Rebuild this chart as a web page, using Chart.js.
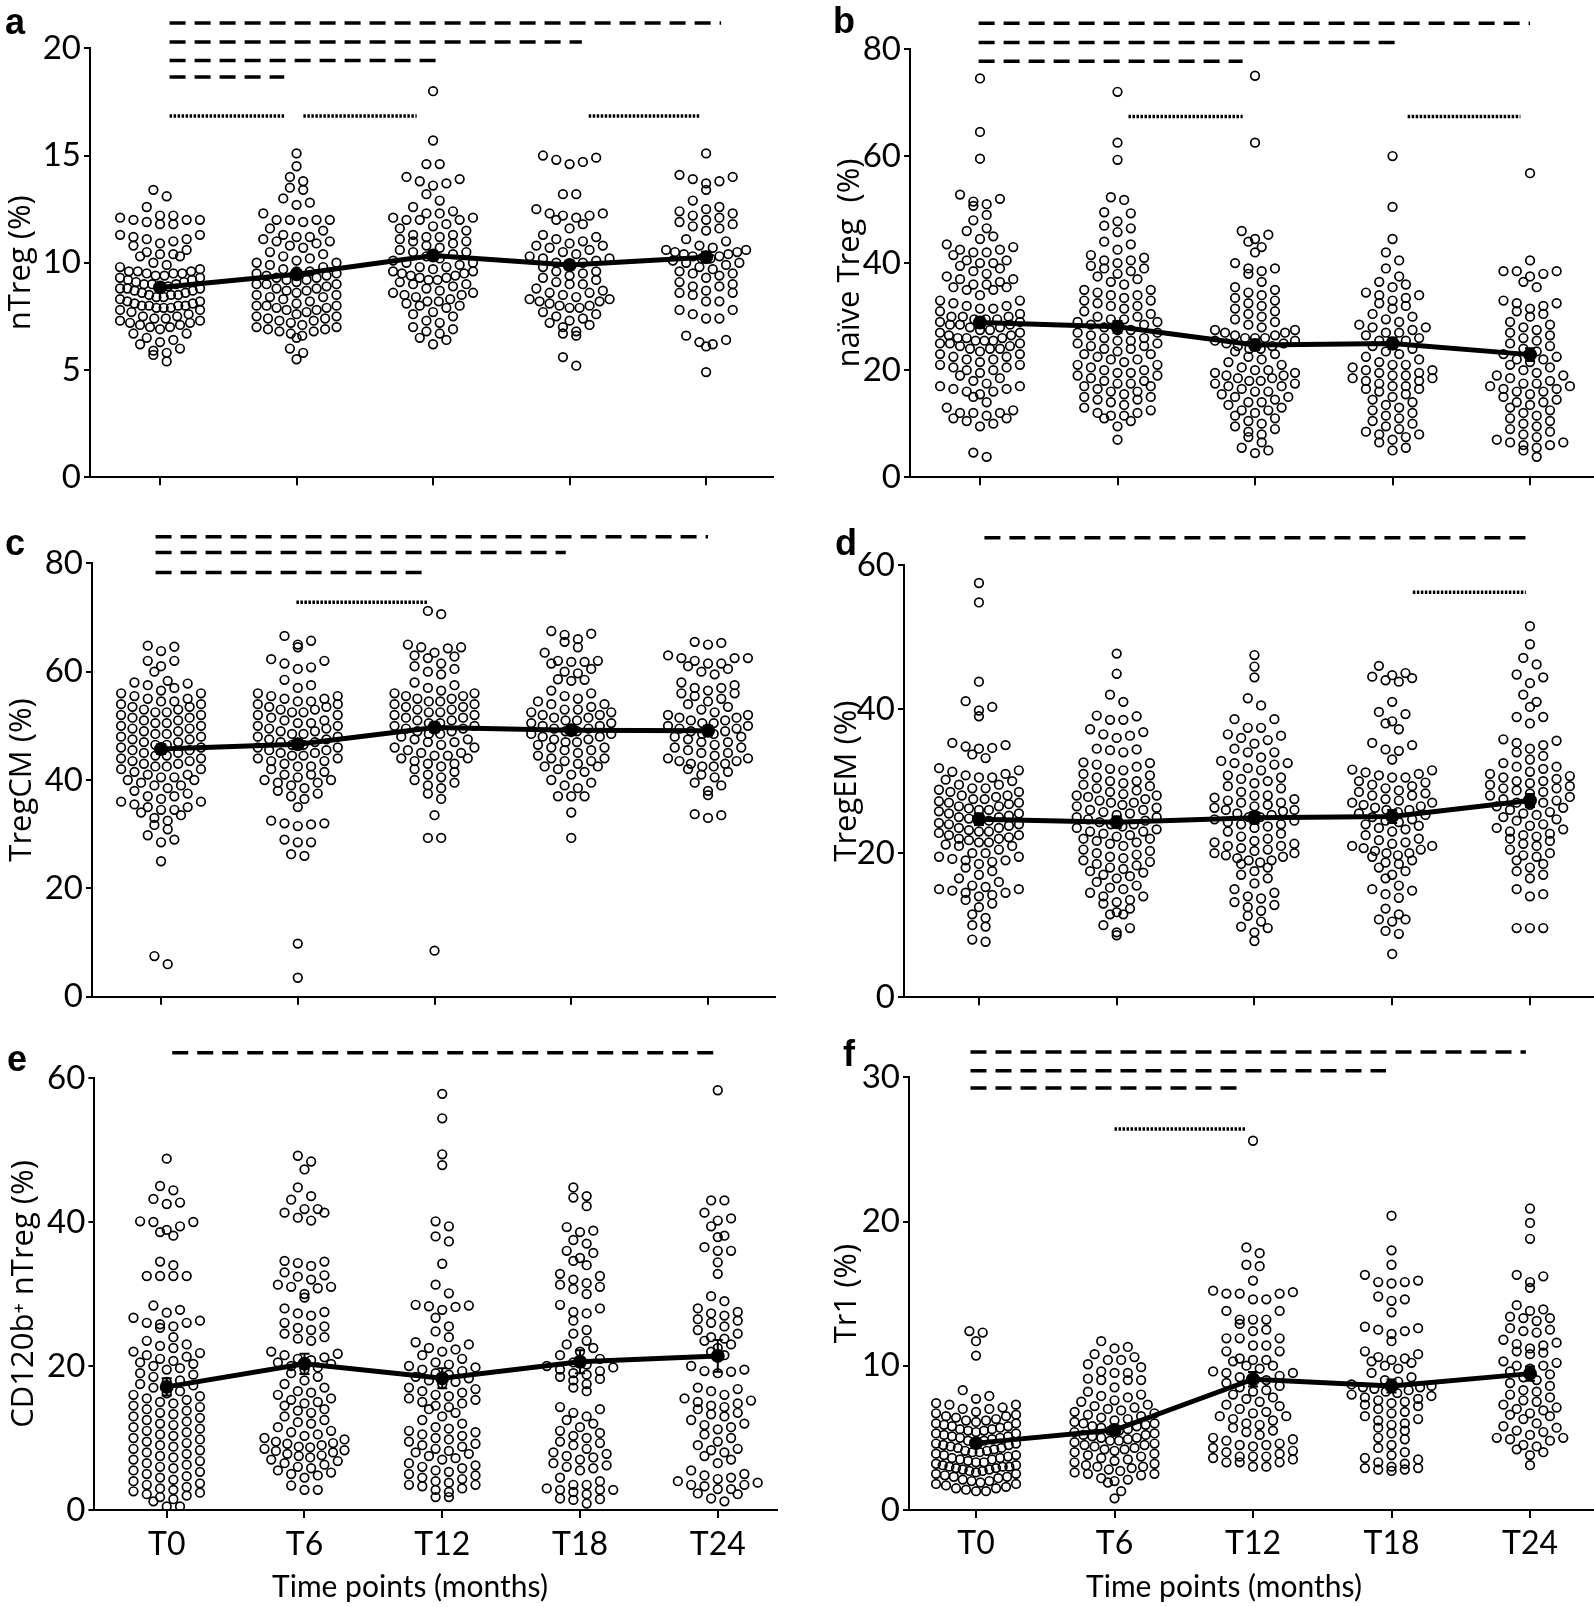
<!DOCTYPE html>
<html>
<head>
<meta charset="utf-8">
<script src="https://cdn.jsdelivr.net/npm/chart.js@4.4.1/dist/chart.umd.min.js"></script>
<style>
  body { margin: 0; background: #fff; }
  #wrap { position: relative; width: 1594px; height: 1607px; }
  canvas { position: absolute; }
</style>
</head>
<body>
<div id="wrap">
  <canvas id="pa" width="797" height="500" style="left:0;top:0"></canvas>
  <canvas id="pb" width="797" height="500" style="left:797px;top:0"></canvas>
  <canvas id="pc" width="797" height="520" style="left:0;top:500px"></canvas>
  <canvas id="pd" width="797" height="520" style="left:797px;top:500px"></canvas>
  <canvas id="pe" width="797" height="587" style="left:0;top:1020px"></canvas>
  <canvas id="pf" width="797" height="587" style="left:797px;top:1020px"></canvas>
</div>
<script>
// time points on the x axis
const timeLabels = ['T0', 'T6', 'T12', 'T18', 'T24'];
const xTitle = 'Time points (months)';

// --- a: nTreg (%) ---
const nTreg = [
  [13.4,13.1,12.6,12.2,12.2,12.1,12.0,12.0,12.0,11.9,11.8,11.8,11.3,11.3,11.2,11.1,11.1,11.0,10.9,10.8,10.6,10.5,10.4,10.4,10.3,10.3,10.0,9.9,9.8,9.7,9.6,9.6,9.6,9.5,9.5,9.5,9.4,9.4,9.3,9.3,9.2,9.2,9.1,9.1,9.0,9.0,9.0,8.9,8.9,8.8,8.8,8.8,8.7,8.7,8.6,8.6,8.5,8.5,8.5,8.4,8.4,8.3,8.2,8.2,8.1,8.1,8.0,8.0,8.0,8.0,7.9,7.9,7.9,7.8,7.8,7.7,7.6,7.5,7.5,7.4,7.4,7.3,7.3,7.2,7.2,7.1,7.1,7.0,7.0,6.9,6.7,6.7,6.5,6.4,6.3,6.2,6.0,5.9,5.8,5.7,5.4],
  [15.1,14.5,14.0,13.8,13.5,13.4,13.0,12.8,12.7,12.3,12.0,12.0,12.0,12.0,11.9,11.6,11.5,11.3,11.2,11.2,11.1,11.0,11.0,10.9,10.8,10.7,10.5,10.4,10.3,10.2,10.1,10.0,10.0,9.9,9.8,9.7,9.6,9.6,9.5,9.5,9.4,9.4,9.3,9.3,9.2,9.2,9.1,9.0,9.0,9.0,8.9,8.8,8.8,8.7,8.7,8.6,8.5,8.5,8.4,8.4,8.3,8.2,8.1,8.0,8.0,8.0,7.9,7.9,7.8,7.8,7.7,7.6,7.5,7.5,7.4,7.4,7.3,7.3,7.2,7.1,7.0,7.0,6.9,6.9,6.8,6.8,6.7,6.6,6.5,6.0,5.8,5.5],
  [18.0,15.7,14.6,14.6,14.0,13.9,13.8,13.7,13.6,13.2,12.9,12.6,12.4,12.3,12.3,12.1,12.1,12.0,12.0,12.0,11.8,11.7,11.6,11.5,11.3,11.3,11.2,11.2,11.1,11.0,11.0,10.9,10.8,10.7,10.6,10.5,10.5,10.4,10.3,10.2,10.1,10.0,10.0,9.9,9.8,9.8,9.7,9.6,9.6,9.5,9.5,9.4,9.4,9.3,9.3,9.2,9.2,9.1,9.0,9.0,8.9,8.8,8.7,8.6,8.6,8.5,8.5,8.4,8.3,8.2,8.2,8.1,8.0,8.0,7.9,7.7,7.6,7.5,7.3,7.2,7.0,6.9,6.8,6.7,6.5,6.4,6.2],
  [15.0,14.9,14.8,14.7,14.6,13.2,13.2,12.5,12.3,12.3,12.2,12.2,12.1,12.0,11.8,11.6,11.3,11.2,11.1,11.0,10.9,10.8,10.8,10.7,10.6,10.5,10.4,10.3,10.2,10.2,10.1,10.0,10.0,9.9,9.8,9.6,9.6,9.5,9.4,9.3,9.2,9.1,9.0,9.0,8.8,8.7,8.6,8.6,8.5,8.4,8.3,8.3,8.2,8.2,8.1,8.0,8.0,7.9,7.9,7.7,7.6,7.5,7.4,7.3,7.2,7.1,7.0,6.8,6.7,6.6,5.6,5.2],
  [15.1,14.1,14.0,13.9,13.8,13.7,13.4,12.9,12.6,12.5,12.4,12.3,12.2,12.1,12.0,11.9,11.8,11.7,11.6,11.5,11.1,11.0,10.8,10.7,10.6,10.6,10.5,10.5,10.4,10.4,10.3,10.3,10.2,10.2,10.1,10.0,10.0,9.9,9.8,9.7,9.6,9.5,9.5,9.4,9.3,9.1,9.0,8.9,8.9,8.7,8.6,8.6,8.5,8.2,8.2,7.8,7.8,7.6,7.4,7.4,6.6,6.4,6.3,6.2,6.1,4.9]
];
const nTregMean = [8.85, 9.46, 10.34, 9.89, 10.26];
const nTregSem = [0.2, 0.2, 0.2, 0.2, 0.25];
const nTregDashed = [[0.07, 4.11, 21.18], [0.07, 3.09, 20.29], [0.07, 2.05, 19.43], [0.07, 0.91, 18.66]];
const nTregDotted = [[0.07, 0.91, 16.84], [1.05, 1.88, 16.84], [3.14, 3.96, 16.84]];

// --- b: naive Treg (%) ---
const naiveTreg = [
  [74.5,64.5,59.5,52.8,52,51.5,51,50.7,49,48,46.5,46,45,44.5,43.5,43,42.5,42.5,42,42,41.5,40.5,40.5,40,40,39.5,39,38.5,38,37.5,37,37,36.5,36,36,35.5,35.5,35,35,34,33,33,32.5,32,32,31.5,31.5,31,30.5,30,30,30,29.5,29.5,29.5,29,29,28.5,28.5,28.5,28,28,27.5,27.5,27,27,26.5,26.5,26,26,26,25.5,25.5,25.5,25,25,25,24.5,24.5,24,24,24,23.5,23,23,22.5,22.5,22,22,21.5,21,21,20.5,20.5,20,20,19.5,19,18.5,18,17.5,17,17,16.5,16.5,16,16,15.5,15,14,13,12.5,12,12,12,11.5,11,11,10.5,10,9.5,4.6,3.8],
  [72,62.5,59.3,52.3,51.8,49.5,49.3,47.8,47,46.5,45.8,44,43.5,42.5,41.5,41,40.5,40.5,40,39.5,39,39,38.5,38,37.5,37,36.5,36,35,35,34.5,34,34,33.5,33,33,32.5,32,32,31.5,31,30.5,30,30,29.5,29.5,29,29,28.5,28.5,28,27.5,27.5,27,27,26.5,26,26,25.5,25.5,25,25,24.5,24.5,24,24,23.5,23,23,22.5,22,22,21.5,21,21,20.5,20,20,19.5,19.5,19,19,18.5,18,18,17.5,17.5,17,17,16.5,16,16,15.5,15,15,14.5,14.5,14,13.5,13,12.5,12,12,11.5,11.5,11,10.5,9.5,7],
  [75,62.5,46,45.3,44.5,44,43,42,40,39,39,38.5,38,36.5,35.5,35,34.5,34,33.5,33,32.5,32,31.5,31,30.5,30,29.5,29,28.5,28,27.5,27.5,27,27,26.5,26.5,26,26,26,25.5,25.5,25,25,24.5,24.5,24,24,23.5,23,22.5,22,21.5,21,20.5,20,20,19.5,19.5,19,19,18.5,18.5,18,18,17.5,17.5,17,17,16.5,16,16,15.5,15,15,14.5,14,14,13.5,13,12.5,12.5,12,11.5,11,10.5,10,9.5,9,8.5,8,7.5,6.5,5.5,5,4.5],
  [60,50.5,44.5,42,40.5,39,37.5,36.5,36,35.5,34.5,34,34,33.5,33,32.5,32,31.5,30.5,30,29.5,29,28.5,28,28,27.5,27,27,26.5,26,25.5,25.5,25,24.5,24,23.5,23,22.5,22,21.5,21,21,20.5,20,20,19.5,19.5,19,19,18.5,18.5,18,18,17.5,17,17,16.5,16.5,16,15.5,15,14.5,14,13.5,13,12.5,12,11.5,11,10.5,10,9.5,9,8.5,8,8,7.5,7,6.5,5.5,5],
  [56.8,40.5,38.5,38.5,38.5,38,37.5,36.5,35.5,33,32.5,32.5,32,31.5,31,30.5,30,29,28.5,28,27.5,27,26.5,26,25.5,25,24.5,24,23.5,23,22.5,22,22,21.5,21,20.5,20,19.5,19,19,18.5,18,17.5,17.5,17,17,16.5,16.5,16,16,15.5,15,14.5,14,14,13.5,13,12.5,12,11.5,11,10.5,10,9.5,9,8.5,8,7.5,7,6.5,6.5,6,6,5.5,5,3.8]
];
const naiveTregMean = [28.9, 28.1, 24.7, 25.0, 22.9];
const naiveTregSem = [1.0, 1.1, 1.0, 1.1, 1.2];
const naiveTregDashed = [[-0.01, 4.0, 84.8], [-0.01, 3.07, 81.2], [-0.01, 1.91, 77.7]];
const naiveTregDotted = [[1.08, 1.91, 67.4], [3.11, 3.93, 67.4]];

// --- c: TregCM (%) ---
const tregCM = [
  [64.8,64.6,63.8,62,62,61,60,58.3,58,57.8,57.5,57,56.5,56,56,55.5,55,55,54.5,54.5,54,54,53.5,53.5,53,53,52.5,52.5,52,52,51.5,51.5,51,51,50.5,50.5,50,50,49.5,49.5,49,49,48.5,48.5,48,48,47.5,47.5,47,47,46.5,46.5,46,46,45.5,45.5,45,45,44.5,44.5,44,44,43.5,43.5,43,43,42.5,42.5,42,42,41.5,41,41,40.5,40.5,40,40,39.5,39,39,38.5,38,37.5,37,37,36.5,36,36,35.5,35,35,34.5,34.5,34,33.5,33,32.5,31.7,30.9,29.8,29,28.5,25,7.5,6],
  [66.6,65.7,65,64.5,62.3,62,61.5,60.8,60.5,58.5,57.5,57,56,55.5,55.5,55,55,54.5,54.5,54,54,53.5,53.5,53,53,52.5,52.5,52,52,51.5,51,51,50.5,50.5,50,50,49.5,49.5,49,49,48.5,48.5,48,48,47.5,47.5,47,47,46.5,46.5,46,46,45.5,45.5,45,45,44.5,44.5,44,44,43.5,43.5,43,42.5,42.5,42,41.5,41,41,40.5,40,40,39.5,39.5,39,38.5,38,37.5,37,36.5,35,32.5,32,32,31.8,31.5,29,28.5,28.5,26.3,26,9.8,3.5],
  [71.2,70.6,65,64.5,64.5,64.3,63.5,63,62.8,62.5,61.5,61,60.5,60,59.5,58,57.5,57,56.5,56,56,55.5,55.5,55,55,54.5,54.5,54,54,53.5,53.5,53,53,52.5,52.5,52,52,51.5,51.5,51,51,50.5,50.5,50,50,49.5,49.5,49,49,48.5,48.5,48,47.5,47.5,47,47,46.5,46,46,45.5,45,45,44.5,44.5,44,44,43.5,43,43,42.5,42,41.5,41,40.5,40,39.5,39,38.5,37.5,36.5,33.5,29.3,29.3,8.5],
  [67.5,67,66.8,66,65.5,64.5,63.5,62,62,61.8,61.8,61.5,60.5,60,59.7,58.6,58.5,58.3,56.5,56,55.5,55,54.5,54,54,53.5,53,53,52.5,52.5,52,52,51.5,51.5,51,51,50.5,50.5,50,50,49.5,49.5,49,49,48.5,48.5,48,48,47.5,47.5,47,47,46.5,46,46,45.5,45.5,45,44.5,44,44,43.5,43.5,43,42.5,42.5,42,41.5,41,40,39.5,39,38.5,37,37,37,34,29.3],
  [65.5,65.3,65,63,62.5,62.5,62.5,62,61.5,61.5,61,60.5,60,59.5,58,57.5,57,57,56.5,56,56,55.5,55,54.5,54,53.5,53,52.5,52,52,51.5,51.5,51,51,50.5,50.5,50,50,49.5,49.5,49,49,48.5,48.5,48,48,47.5,47,47,46.5,46,46,45.5,45,45,44.5,44,44,43.5,43.5,43,43,42.5,42.5,42,41.5,41,40.5,39.5,39,38,37.2,33.7,33.5,33]
];
const tregCMMean = [45.7, 46.6, 49.7, 49.2, 49.1];
const tregCMSem = [0.9, 0.9, 0.9, 0.9, 0.9];
const tregCMDashed = [[-0.04, 4.0, 84.9], [-0.04, 2.96, 82.0], [-0.04, 1.94, 78.3]];
const tregCMDotted = [[0.99, 1.95, 72.8]];

// --- d: TregEM (%) ---
const tregEM = [
  [57.5,54.8,43.8,41.1,40.3,39.8,39,35.3,35,34.8,34.6,34.5,33.7,33.2,31.8,31.5,31.3,31,30.8,30.5,30.5,30.2,30,29.5,29.5,29,29,28.8,28.5,28.5,28,28,27.8,27.5,27.5,27.2,27,27,26.8,26.5,26.5,26.2,26,26,25.8,25.5,25.5,25.2,25,25,24.8,24.5,24.5,24.2,24,24,23.8,23.5,23.5,23.2,23,23,22.8,22.5,22.5,22.2,22,22,21.8,21.5,21.5,21.2,21,21,20.5,20,20,19.5,19.5,19.2,19,19,18.8,18.5,18,17.5,17,16.5,16,15.5,15.3,15,15,14.8,14.5,14.5,14.2,14,13.5,13,12.5,11.5,11,10,9.8,8,7.7],
  [47.7,44.9,42,41,39.1,39,38.5,38.5,37.2,36.8,36.5,36.3,36,34.5,34.4,34.3,34,32.6,32.5,32.3,32,31.7,31.5,31,30.8,30.5,30,30,29.7,29.5,29.3,29,28.7,28.5,28.2,28,28,27.8,27.5,27.3,27,27,26.7,26.5,26.3,26,26,25.7,25.5,25.3,25,25,24.7,24.5,24.3,24,24,23.7,23.5,23.3,23,23,22.7,22.5,22.3,22,22,21.7,21.5,21.3,21,20.5,20.3,20,19.8,19.5,19.3,19,18.8,18.5,18.3,18,17.8,17.5,17.3,17,16.8,16.5,16,15.5,15.2,15,14.5,14,14,13.5,13.2,13,12.3,11.8,11.5,11.5,10,9.6,9,8.6],
  [47.5,45.9,44.4,41.5,40.5,38.6,38.6,37.4,37.4,36.5,36.3,36,35.7,35.2,34.5,34,34,33.3,32.8,32.5,32.5,32.3,31.8,31.5,30.8,30.5,30.3,30,29.7,29.3,29,28.5,28,28,27.7,27.5,27.3,27,27,26.7,26.5,26.3,26,26,25.8,25.5,25.3,25,25,24.7,24.5,24.3,24,24,23.7,23.5,23,22.7,22.3,22,21.7,21.5,21.3,21,21,20.7,20.5,20.3,20,20,19.7,19.5,19.3,19,19,18.7,18.5,18,17.5,17,16.5,15.8,15,14.5,14,13.7,13.2,12.8,12.5,12,11.3,10.5,9.8,9.6,9,7.8],
  [46,45,44.7,44.5,44.3,44,43.8,41,39.6,39.3,38.3,38,37.2,35.3,35,34.4,34.2,33,31.6,31.5,31.2,31,30.8,30.5,30.5,30,29.8,29.5,29.3,29,28.7,28.5,28.3,28,28,27.5,27.3,27,27,26.7,26.5,26.3,26,26,25.7,25.5,25.3,25,24.7,24.5,24.3,24,23.8,23.5,23.3,23,22.5,22,21.8,21.5,21.3,21,21,20.7,20.5,20.3,20,20,19.7,19.5,19,18.7,18.5,18,17.5,17,16.5,15.5,15,14.8,14.3,13.8,12.3,11.5,10.8,10.8,10.5,9.2,8.8,6],
  [51.5,49,47.1,46.2,44.8,44.4,43.6,42,41,40.3,38.9,38.9,38,35.8,35.6,35.3,35,34.5,34,33.5,33,32.5,32,32,31.7,31.3,31,30.7,30.5,30.3,30,30,29.7,29.5,29.3,29,29,28.7,28.5,28.3,28,27.8,27.5,27.3,27,27,26.7,26.5,26.3,26,25.7,25.5,25.3,25,24.7,24.5,24,23.8,23.5,23.3,23,22.7,22.5,22.3,22,21.7,21.3,21,20.5,20,19.7,19.5,19,18.5,18,17.5,17,16.5,15,14.3,14,9.6,9.6,9.6]
];
const tregEMMean = [24.7, 24.3, 24.9, 25.1, 27.3];
const tregEMSem = [0.8, 0.8, 0.8, 0.9, 0.9];
const tregEMDashed = [[0.04, 4.03, 63.8]];
const tregEMDotted = [[3.15, 3.97, 56.2]];

// --- e: CD120b+ nTreg (%) ---
const cd120b = [
  [48.8,45,44.4,43.2,42.7,42.5,40.1,40,40,39.4,38.9,38.6,38.1,34.5,34,32.5,32.5,32.5,32.5,28.4,27.8,27.4,26.7,26.3,26,26,25.8,25.5,25.3,24,23.5,23,22.8,22.5,22,21.8,21.5,21.3,21,20.7,20.5,20.3,20,19.7,19.5,19,18.8,18.5,18,17.8,17.5,17.3,17,16.5,16.2,16,15.8,15.5,15.3,15,14.8,14.5,14.3,14,13.8,13.5,13.3,13,12.8,12.5,12.3,12,11.8,11.5,11.3,11,10.8,10.5,10.3,10,9.8,9.5,9.3,9,8.8,8.5,8.3,8,7.8,7.5,7.3,7,6.8,6.5,6.3,6,5.8,5.5,5.3,5,4.7,4.5,4.2,4,3.7,3.5,3.2,3,2.8,2.6,2.4,2.2,2,1.8,1.5,1.2,0.5,0.5],
  [49.2,48.4,47.3,44.8,43.6,43.1,41.8,41.8,41.3,41.3,40.6,40.2,34.6,34.5,34.3,33.9,33,32.6,32.4,32,31.3,31,31,30.8,30,29.5,28,27.5,27.3,27,26,25.5,25.3,25,24.5,24,23.8,23.5,22,21.7,21.5,21.2,21,20.8,20.5,20.3,20,19.8,19.5,19,18.5,18,17.5,17,16.5,16.3,16,15.5,15.3,15,14.8,14.5,14,13.8,13.5,13,12.5,12.2,12,11.5,11,10.8,10.5,10.3,10,9.8,9.5,9.3,9.2,9,8.8,8.7,8.5,8.3,8.2,8,7.8,7.6,7.5,7.3,7,6.8,6.5,6.3,6,5.8,5.5,5.2,5,4.8,4.5,3.4,2.8,2.8],
  [57.8,54.4,49.4,47.9,40.1,39.4,38,37.3,34.2,31.3,30.1,28.5,28.4,28.3,28.2,27.8,26.7,25.5,24.8,24,23.3,23,22.5,22.3,22,21.5,21,20.5,20.2,20,19.8,19.5,19.3,19,18.8,18.5,18.3,18,17.8,17.5,17,16.8,16.5,16.3,16,15.8,15.5,15.3,15,14.8,14.5,14.3,14,13.5,13,12.5,12,11.5,11.3,11,10.8,10.5,10.3,10,9.8,9.5,9.2,9,8.8,8.5,8.2,8,7.8,7.5,7.2,7,6.5,6.2,6,5.8,5.5,5.3,5,4.8,4.5,4.3,4,3.8,3.5,3.5,3.3,3,2.8,2.5,1.8,1.8],
  [44.8,43.6,43.4,42.2,39.3,38.8,38.6,37.5,37,36,35.7,35,34.6,34,32.8,32.5,32,31.5,31.3,31,30.7,30,28.5,28,27.5,27.3,26.3,25,24.5,23.5,23,22.5,22,21.5,21,20.5,20.2,20,19.8,19.5,19.3,19,18.8,18.5,18.2,18,17.5,17,16.5,14.3,14,13.5,13,12.5,12,11.5,11,10.7,10.3,10,9.5,9.3,9,8.5,8,7.8,7.5,7.3,7,6.5,6.2,6,5.8,5.5,4.5,4,3.5,3.5,3,2.8,2.8,2.8,2.5,2.2,1.6,1.5,1.4,0.9],
  [58.3,43,43,41.3,40.5,40.2,39.4,38.1,37.9,36.5,36,36,34.4,32.8,29.7,29,28,27.5,27.3,27,26.5,26.3,26,25.5,25,24.5,24,23.8,23.5,23,22.5,22,21.5,20,19.5,19.3,19.2,19,17,16.8,16.5,16,15.5,15.2,15,14.8,14.5,14.3,14,13.5,13.3,13,12.5,12,11.8,11.5,11.2,10.5,10,9.5,9,8.5,8.3,8,7.5,7,6.5,5.5,5,4.8,4.5,4.3,4,3.8,3.5,3.5,3.3,2.9,2.9,2.3,2.2,1.6,1.2]
];
const cd120bMean = [17.1, 20.3, 18.3, 20.6, 21.4];
const cd120bSem = [1.2, 1.4, 1.4, 1.6, 2.2];
const cd120bDashed = [[0.04, 3.98, 63.5]];
const cd120bDotted = [];

// --- f: Tr1 (%) ---
const tr1 = [
  [12.4,12.3,11.7,10.7,8.3,7.9,7.7,7.4,7.3,7.3,7.1,7,7,6.8,6.7,6.6,6.5,6.5,6.4,6.3,6.2,6.2,6.1,6,6,5.9,5.8,5.8,5.7,5.6,5.6,5.5,5.5,5.4,5.3,5.3,5.2,5.1,5.1,5,5,4.9,4.8,4.8,4.7,4.6,4.6,4.5,4.5,4.4,4.3,4.3,4.2,4.1,4.1,4,4,3.9,3.8,3.8,3.7,3.6,3.6,3.5,3.5,3.4,3.3,3.3,3.2,3.1,3.1,3,3,3,2.9,2.9,2.8,2.8,2.7,2.7,2.6,2.5,2.5,2.4,2.3,2.3,2.2,2.1,2,2,1.9,1.8,1.8,1.7,1.6,1.5,1.5,1.4,1.3,1.3],
  [11.7,11.3,11.2,10.8,10.6,10.4,10.4,10.1,9.9,9.6,9.5,9.5,9.1,9,9,9,8.5,8.2,8,7.9,7.8,7.6,7.5,7.3,7.2,7.1,7,6.9,6.8,6.7,6.6,6.5,6.4,6.3,6.2,6.1,6,6,5.9,5.8,5.8,5.7,5.6,5.5,5.5,5.4,5.3,5.2,5.2,5.1,5,5,4.9,4.8,4.8,4.7,4.6,4.5,4.5,4.4,4.3,4.2,4.2,4.1,4,3.9,3.8,3.7,3.6,3.5,3.4,3.3,3.2,3.1,3,3,2.9,2.8,2.7,2.6,2.5,2.5,2.4,2.2,2.1,2,1.9,1.3,0.8],
  [25.6,18.2,17.8,17,16.9,15.9,15.2,15.1,15,15,15,14.6,14.6,13.8,13.8,13.2,13.2,13.2,12.9,12.5,12.4,11.9,11.9,11.9,11.4,11.4,11,11,10.5,10.4,10.4,10.3,10,10,9.8,9.6,9.5,9.5,9.3,9.2,9,9,8.8,8.6,8.5,8.3,8.2,8,7.8,7.7,7.5,7.3,7.2,7,6.8,6.7,6.5,6.5,6.3,6.2,6,5.9,5.7,5.5,5.4,5.2,5,4.9,4.8,4.6,4.5,4.5,4.4,4.3,4.1,4,3.9,3.7,3.7,3.7,3.6,3.5,3.3,3.3,3.3,3,3],
  [20.4,18,17,16.3,15.9,15.8,15.8,15.7,14.8,14.6,14.5,13.7,12.7,12.6,12.5,12.4,12.2,11.7,11,10.8,10.6,10.5,10.4,10.3,10.2,10,9.8,9.5,9.2,9,8.9,8.7,8.6,8.5,8.5,8.4,8.3,8.2,8.1,8,7.9,7.8,7.7,7.6,7.5,7.4,7.3,7.2,7,6.8,6.7,6.5,6.3,6.2,6,5.9,5.7,5.5,5.3,5,4.9,4.5,4.3,4,3.8,3.6,3.5,3.3,3.2,3,2.9,2.9,2.8,2.8,2.7],
  [20.9,19.9,18.8,16.3,16.2,15.8,15.4,14.2,13.9,13.8,13.4,13.3,13.3,13.1,12.6,12.5,12.4,12.3,11.8,11.6,11.5,11.4,11.2,11,10.9,10.8,10.3,10.2,10,10,9.8,9.6,9.4,9.2,9,8.8,8.6,8.3,8.2,8,7.8,7.6,7.5,7.3,7.1,7,6.9,6.7,6.6,6.5,6.3,6,5.8,5.7,5.5,5.4,5.2,5,5,4.9,4.8,4.5,4.4,4.2,4,3.8,3.1]
];
const tr1Mean = [4.63, 5.54, 9.06, 8.59, 9.45];
const tr1Sem = [0.25, 0.3, 0.5, 0.45, 0.5];
const tr1Dashed = [[-0.04, 3.97, 31.76], [-0.04, 2.96, 30.46], [-0.04, 1.93, 29.26]];
const tr1Dotted = [[1.0, 1.95, 26.42]];

// panel setup: values + axis geometry inside each canvas
const panels = [
  { id: 'pa', letter: 'a', lx: 5, ly: 34, title: 'nTreg (%)', titlePad: 3, values: nTreg, mean: nTregMean, sem: nTregSem,
    dashed: nTregDashed, dotted: nTregDotted, yMax: 20, yStep: 5,
    yWidth: 90, top: 48.3, right: 24, xHeight: 18.3, xMin: -0.513, xMax: 4.49, bottom: false },
  { id: 'pb', letter: 'b', lx: 36, ly: 33, title: 'naïve Treg  (%)', titlePad: 35, values: naiveTreg, mean: naiveTregMean, sem: naiveTregSem,
    dashed: naiveTregDashed, dotted: naiveTregDotted, yMax: 80, yStep: 20,
    yWidth: 113, top: 49, right: 0, xHeight: 17.7, xMin: -0.509, xMax: 4.465, bottom: false },
  { id: 'pc', letter: 'c', lx: 5, ly: 55, title: 'TregCM (%)', titlePad: 4, values: tregCM, mean: tregCMMean, sem: tregCMSem,
    dashed: tregCMDashed, dotted: tregCMDotted, yMax: 80, yStep: 20,
    yWidth: 92, top: 63.3, right: 22, xHeight: 23.3, xMin: -0.505, xMax: 4.49, bottom: false },
  { id: 'pd', letter: 'd', lx: 38, ly: 55, title: 'TregEM (%)', titlePad: 32, values: tregEM, mean: tregEMMean, sem: tregEMSem,
    dashed: tregEMDashed, dotted: tregEMDotted, yMax: 60, yStep: 20,
    yWidth: 107, top: 65, right: 0, xHeight: 21.7, xMin: -0.544, xMax: 4.465, bottom: false },
  { id: 'pe', letter: 'e', lx: 7, ly: 51, title: 'CD120b\u207A nTreg (%)', titlePad: 6, values: cd120b, mean: cd120bMean, sem: cd120bSem,
    dashed: cd120bDashed, dotted: cd120bDotted, yMax: 60, yStep: 20,
    yWidth: 94.4, top: 58, right: 20, xHeight: 97, xMin: -0.525, xMax: 4.43, bottom: true, tx: 410 },
  { id: 'pf', letter: 'f', lx: 46, ly: 46, title: 'Tr1 (%)', titlePad: 32, values: tr1, mean: tr1Mean, sem: tr1Sem,
    dashed: tr1Dashed, dotted: tr1Dotted, yMax: 30, yStep: 10,
    yWidth: 112, top: 57.3, right: 0, xHeight: 97.1, xMin: -0.484, xMax: 4.462, bottom: true, tx: 427 }
];

// error bars (SEM) on the mean line
const errorBarPlugin = {
  id: 'errorBars',
  afterDatasetsDraw(chart) {
    const p = chart.options.plugins.errorBars;
    const xs = chart.scales.x, ys = chart.scales.y, ctx = chart.ctx;
    ctx.save();
    ctx.strokeStyle = '#000';
    ctx.lineWidth = 2;
    p.mean.forEach((m, i) => {
      const x = xs.getPixelForValue(i);
      const y1 = ys.getPixelForValue(m - p.sem[i]);
      const y2 = ys.getPixelForValue(m + p.sem[i]);
      ctx.beginPath();
      ctx.moveTo(x, y1); ctx.lineTo(x, y2);
      ctx.moveTo(x - 5, y1); ctx.lineTo(x + 5, y1);
      ctx.moveTo(x - 5, y2); ctx.lineTo(x + 5, y2);
      ctx.stroke();
    });
    ctx.restore();
  }
};

// panel letter and the x axis title of the bottom row
const textPlugin = {
  id: 'panelText',
  afterDraw(chart) {
    const p = chart.options.plugins.panelText;
    const ctx = chart.ctx;
    ctx.save();
    ctx.fillStyle = '#000';
    ctx.font = 'bold 36px "Liberation Sans", Arial, sans-serif';
    ctx.textBaseline = 'alphabetic';
    ctx.fillText(p.letter, p.x, p.y);
    if (p.tx) {
      ctx.font = '30px Lato, sans-serif';
      ctx.textAlign = 'center';
      ctx.textBaseline = 'middle';
      ctx.fillText(xTitle, p.tx, 567);
    }
    ctx.restore();
  }
};

function sigLine(seg, dash, width) {
  return {
    type: 'line',
    data: [{ x: seg[0], y: seg[2] }, { x: seg[1], y: seg[2] }],
    borderColor: '#000',
    borderWidth: width,
    borderDash: dash,
    pointRadius: 0,
    clip: false,
    order: 1
  };
}

// spread each group into rows like a dot plot
function swarm(chart, values) {
  const xs = chart.scales.x, ys = chart.scales.y;
  const rowH = 10, colW = 13.3, maxW = 80;
  values.forEach((vals, i) => {
    const cx = xs.getPixelForValue(i);
    const pts = vals.map(v => ({ v: v, py: ys.getPixelForValue(v) })).sort((a, b) => a.py - b.py);
    const rows = [];
    let row = null;
    pts.forEach(pt => {
      if (!row || pt.py - row[0].py > rowH) { row = []; rows.push(row); }
      row.push(pt);
    });
    const out = [];
    rows.forEach(r => {
      const n = r.length;
      const step = n > 1 ? Math.min(colW, maxW / (n - 1)) : 0;
      r.forEach((pt, k) => {
        const slot = k % 2 === 0 ? k / 2 : n - 1 - (k - 1) / 2;
        const off = (slot - (n - 1) / 2) * step;
        out.push({ x: xs.getValueForPixel(cx + off), y: pt.v });
      });
    });
    chart.data.datasets[i + 1].data = out;
  });
  chart.update('none');
}

panels.forEach(p => {
  const datasets = [];
  datasets.push({
    type: 'line',
    data: p.mean.map((m, i) => ({ x: i, y: m })),
    borderColor: '#000',
    borderWidth: 5,
    pointRadius: 4.5,
    pointBackgroundColor: '#000',
    pointBorderColor: '#000',
    order: 0
  });
  p.values.forEach(() => {
    datasets.push({
      type: 'scatter',
      data: [],
      pointRadius: 4.3,
      borderWidth: 1.7,
      borderColor: '#000',
      backgroundColor: 'rgba(0,0,0,0)',
      order: 2
    });
  });
  p.dashed.forEach(s => datasets.push(sigLine(s, [16, 9], 3.5)));
  p.dotted.forEach(s => datasets.push(sigLine(s, [2.5, 1.5], 3.5)));

  const chart = new Chart(document.getElementById(p.id), {
    type: 'scatter',
    data: { datasets: datasets },
    options: {
      responsive: false,
      animation: false,
      devicePixelRatio: 1,
      events: [],
      layout: { autoPadding: false, padding: { top: p.top, right: p.right, left: 0, bottom: 0 } },
      plugins: {
        legend: { display: false },
        tooltip: { enabled: false },
        errorBars: { mean: p.mean, sem: p.sem },
        panelText: { letter: p.letter, x: p.lx, y: p.ly, tx: p.tx }
      },
      scales: {
        x: {
          type: 'linear',
          min: p.xMin,
          max: p.xMax,
          afterBuildTicks: s => { s.ticks = timeLabels.map((t, i) => ({ value: i })); },
          afterFit: s => { s.height = p.xHeight; },
          ticks: {
            display: p.bottom,
            callback: v => timeLabels[v],
            font: { family: 'Lato', size: 32 },
            color: '#000',
            padding: 7,
            maxRotation: 0
          },
          grid: { drawOnChartArea: false, drawTicks: true, tickLength: 8, color: '#000', lineWidth: 2 },
          border: { display: true, color: '#000', width: 2 }
        },
        y: {
          min: 0,
          max: p.yMax,
          afterFit: s => { s.width = p.yWidth; },
          ticks: { stepSize: p.yStep, font: { family: 'Lato', size: 33 }, color: '#000', padding: 3 },
          grid: { drawOnChartArea: false, drawTicks: true, tickLength: 6, color: '#000', lineWidth: 2 },
          border: { display: true, color: '#000', width: 2 },
          title: {
            display: true,
            text: p.title,
            font: { family: 'Open Sans', size: 31 },
            color: '#000',
            padding: { top: p.titlePad, bottom: 0 }
          }
        }
      }
    },
    plugins: [errorBarPlugin, textPlugin]
  });
  swarm(chart, p.values);
});
</script>
</body>
</html>
